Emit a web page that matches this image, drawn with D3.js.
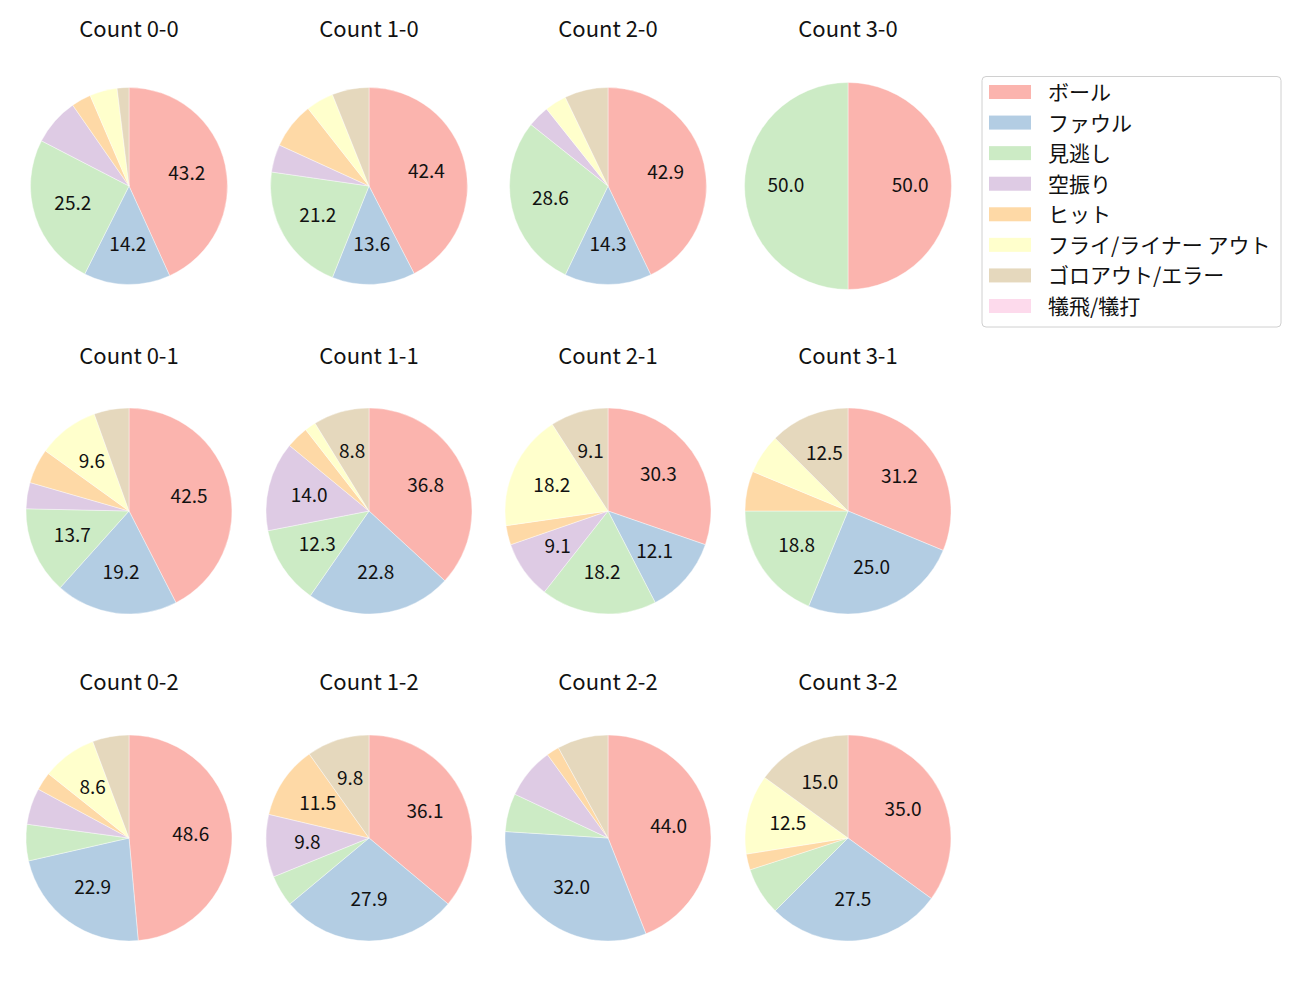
<!DOCTYPE html>
<html><head><meta charset="utf-8">
<script src="https://cdn.jsdelivr.net/npm/d3@7"></script>
<style>body{margin:0;background:#fff;} text{font-family:"Noto Sans CJK JP","Noto Sans",sans-serif;}</style>
</head><body>
<svg id="chart" width="1300" height="1000"></svg>
<script>
const categories = ["ボール","ファウル","見逃し","空振り","ヒット","フライ/ライナー アウト","ゴロアウト/エラー","犠飛/犠打"];
const colors = ["#fbb4ae","#b3cde3","#ccebc5","#decbe4","#fed9a6","#ffffcc","#e5d8bd","#fddaec"];
const counts = ["0-0","1-0","2-0","3-0","0-1","1-1","2-1","3-1","0-2","1-2","2-2","3-2"];
const v00 = [67,22,39,12,5,7,3,0];
const v10 = [28,9,14,3,5,3,4,0];
const v20 = [12,4,8,1,0,1,2,0];
const v30 = [1,0,1,0,0,0,0,0];
const v01 = [31,14,10,3,4,7,4,0];
const v11 = [21,13,7,8,2,1,5,0];
const v21 = [10,4,6,3,1,6,3,0];
const v31 = [5,4,3,0,1,1,2,0];
const v02 = [17,8,2,2,1,3,2,0];
const v12 = [22,17,3,6,7,0,6,0];
const v22 = [22,16,3,4,1,0,4,0];
const v32 = [14,11,3,0,1,5,6,0];
const seriesValues = [v00,v10,v20,v30,v01,v11,v21,v31,v02,v12,v22,v32];

// Python-style one-decimal formatting (round half to even on exact halves)
function fmt1(x) {
  const s = x * 10;
  const f = Math.floor(s);
  const diff = s - f;
  let r;
  if (Math.abs(diff - 0.5) < 1e-9) r = (f % 2 === 0) ? f : f + 1;
  else r = Math.round(s);
  return (r / 10).toFixed(1);
}

const svg = d3.select("#chart");
const colX = [129, 369, 608, 848];
const rowY = [186, 511, 838];
const titleY = [29, 356, 682];
const radii = [98.5,98.5,98.5,103.5, 103,103,103,103, 103,103,103,103];
const color = d3.scaleOrdinal().domain(categories).range(colors);
const pie = d3.pie().sort(null).value(d => d.v).startAngle(0).endAngle(2*Math.PI);

counts.forEach((c, i) => {
  const col = i % 4, row = Math.floor(i / 4);
  const cx = colX[col], cy = rowY[row], r = radii[i];
  const data = categories.map((k, j) => ({k, v: seriesValues[i][j]}));
  const total = d3.sum(data, d => d.v);
  const arcs = pie(data).filter(a => a.data.v > 0);
  const g = svg.append("g").attr("transform", `translate(${cx},${cy})`);
  const arc = d3.arc().innerRadius(0).outerRadius(r);
  g.selectAll("path").data(arcs).join("path")
    .attr("d", arc).attr("fill", d => color(d.data.k))
    .attr("stroke", "#fff").attr("stroke-width", 0.4);
  const lab = d3.arc().innerRadius(r*0.6).outerRadius(r*0.6);
  g.selectAll("text").data(arcs.filter(a => a.data.v/total*100 >= 8.3)).join("text")
    .attr("transform", d => `translate(${lab.centroid(d)})`)
    .attr("text-anchor", "middle").attr("dominant-baseline", "central").attr("dy", "-0.12em")
    .attr("font-size", 19).attr("fill", "#111")
    .text(d => fmt1(d.data.v/total*100));
  svg.append("text").attr("x", cx).attr("y", titleY[row])
    .attr("text-anchor", "middle").attr("dominant-baseline", "central").attr("dy", "-0.1em")
    .attr("font-size", 22).attr("fill", "#111").text("Count " + c);
});

// legend
const lg = svg.append("g");
lg.append("rect").attr("x", 982).attr("y", 76.5).attr("width", 299).attr("height", 250.5)
  .attr("rx", 4).attr("fill", "#fff").attr("stroke", "#d0d0d0").attr("stroke-width", 1);
const ly = d3.scaleLinear().domain([0, categories.length-1]).range([92, 306]);
categories.forEach((k, j) => {
  lg.append("rect").attr("x", 989).attr("y", ly(j)-7).attr("width", 42).attr("height", 14).attr("fill", color(k));
  lg.append("text").attr("x", 1048).attr("y", ly(j)).attr("dominant-baseline", "central").attr("dy", "-0.05em")
    .attr("font-size", 21).attr("fill", "#111").text(k);
});
</script>
</body></html>
